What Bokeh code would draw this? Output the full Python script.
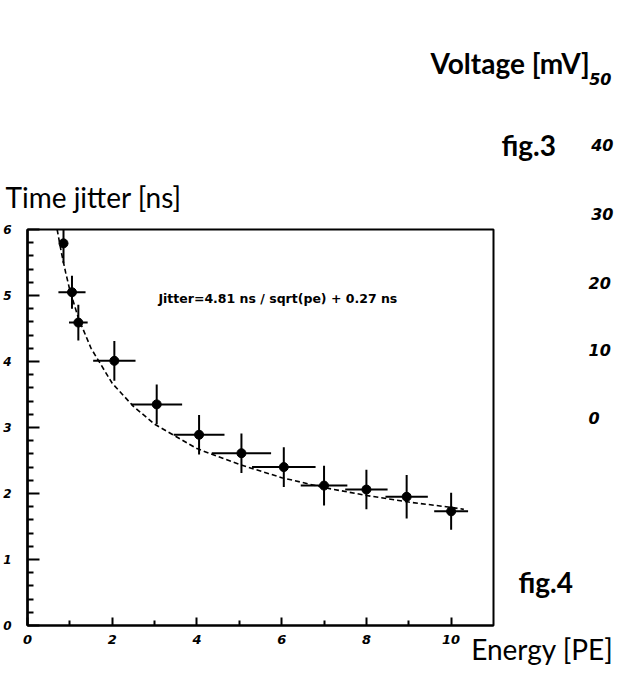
from bokeh.plotting import figure
from bokeh.models import Range1d, FixedTicker, Label, LinearAxis, Title
from bokeh.embed import file_html
from bokeh.resources import INLINE

# ---- data ----
energy = [0.85, 1.05, 1.2, 2.05, 3.05, 4.05, 5.05, 6.05, 7.0, 8.0, 8.95, 10.0]
jitter = [5.79, 5.05, 4.59, 4.01, 3.35, 2.89, 2.61, 2.40, 2.12, 2.06, 1.95, 1.73]
energy_err = [0.0, 0.32, 0.22, 0.5, 0.6, 0.6, 0.7, 0.75, 0.55, 0.5, 0.5, 0.4]
jitter_err = [0.3, 0.25, 0.27, 0.3, 0.3, 0.3, 0.3, 0.3, 0.3, 0.3, 0.33, 0.28]

fit_energy = [0.70, 0.80, 0.90, 1.0, 1.2, 1.5, 2.0, 2.5, 3.0, 4.0, 5.0, 6.0, 7.0, 8.0, 9.0, 10.0, 10.3]
fit_jitter = [6.0, 5.65, 5.35, 5.08, 4.66, 4.2, 3.67, 3.32, 3.05, 2.68, 2.44, 2.24, 2.09, 1.97, 1.87, 1.79, 1.76]

x_ticks = [0, 2, 4, 6, 8, 10]
x_minor_ticks = [1, 3, 5, 7, 9]
y_ticks = [0, 1, 2, 3, 4, 5, 6]
volt_ticks = [50, 40, 30, 20, 10, 0]

fit_text = "Jitter=4.81 ns / sqrt(pe) + 0.27 ns"

FONT = "Lato"
NUMFONT = "DejaVu Sans"

# ---------------- geometry (page pixels) ----------------
W, H = 614, 665
MARGIN = 8
FRAME_TOP = 237          # page y of the frame top
FRAME_BOTTOM = 633
FRAME_LEFT = 34
FRAME_RIGHT = 501
VOLT_PX = 6.75           # pixels per mV of the neighbouring fig.3 scale
VOLT_ZERO = 425          # page y of its 0 mV label


def volt_to_page(v):
    return VOLT_ZERO - v * VOLT_PX


def page_to_volt(y):
    return (VOLT_ZERO - y) / VOLT_PX


p = figure(width=W, height=H,
           x_range=Range1d(0, 11), y_range=Range1d(0, 6),
           output_backend="svg", toolbar_location=None,
           min_border_left=FRAME_LEFT - MARGIN,
           min_border_right=MARGIN + W - FRAME_RIGHT,
           min_border_top=FRAME_TOP - MARGIN,
           min_border_bottom=H + MARGIN - FRAME_BOTTOM)
p.extra_y_ranges = {"volt": Range1d(page_to_volt(FRAME_BOTTOM), page_to_volt(FRAME_TOP))}

p.xgrid.visible = False
p.ygrid.visible = False
p.outline_line_color = "black"
p.outline_line_width = 2
p.outline_line_alpha = 1
p.background_fill_color = "white"
p.border_fill_color = "white"

# x axis
p.xaxis.ticker = FixedTicker(ticks=x_ticks, minor_ticks=x_minor_ticks)
p.xaxis.major_tick_in = 8
p.xaxis.major_tick_out = 0
p.xaxis.minor_tick_in = 5
p.xaxis.minor_tick_out = 0
p.xaxis.major_tick_line_width = 2
p.xaxis.minor_tick_line_width = 2
p.xaxis.axis_line_width = 2
p.xaxis.major_label_standoff = 9
p.xaxis.major_label_text_font = NUMFONT
p.xaxis.major_label_text_font_style = "bold italic"
p.xaxis.major_label_text_font_size = "13px"
p.xaxis.major_label_text_color = "black"

# y axis
y_minor = [round(0.2 * i, 1) for i in range(31) if i % 5]
p.yaxis.ticker = FixedTicker(ticks=y_ticks, minor_ticks=y_minor)
p.yaxis.major_tick_in = 12
p.yaxis.major_tick_out = 0
p.yaxis.minor_tick_in = 6
p.yaxis.minor_tick_out = 0
p.yaxis.major_tick_line_width = 2
p.yaxis.minor_tick_line_width = 2
p.yaxis.axis_line_width = 2.5
p.yaxis.major_label_standoff = 16
p.yaxis.major_label_text_font = NUMFONT
p.yaxis.major_label_text_font_style = "bold italic"
p.yaxis.major_label_text_font_size = "12px"
p.yaxis.major_label_text_color = "black"

# right side: "fig.4" caption and the lower voltage labels of fig.3
fig4_v = page_to_volt(589)
ax_f4 = LinearAxis(y_range_name="volt", ticker=FixedTicker(ticks=[fig4_v]),
                   major_label_overrides={fig4_v: "fig.4"})
ax_volt = LinearAxis(y_range_name="volt", ticker=FixedTicker(ticks=volt_ticks))
for ax, standoff, font, size, style in ((ax_f4, 25, FONT, "28px", "bold"),
                                        (ax_volt, 13, NUMFONT, "16px", "bold italic")):
    ax.axis_line_color = None
    ax.major_tick_line_color = None
    ax.minor_tick_line_color = None
    ax.major_tick_in = 0
    ax.major_tick_out = 0
    ax.minor_tick_in = 0
    ax.minor_tick_out = 0
    ax.major_label_standoff = standoff
    ax.major_label_text_font = font
    ax.major_label_text_font_size = size
    ax.major_label_text_font_style = style
    ax.major_label_text_color = "black"
    p.add_layout(ax, "right")

# x title at the right end of the axis
p.add_layout(Title(text="Energy [PE]", align="right", offset=FRAME_RIGHT - 621, standoff=-29,
                   vertical_align="top", text_font=FONT, text_font_size="28px",
                   text_font_style="normal", text_color="black"), "below")


# ---- texts above the frame, stacked upward from the frame top ----
def h_est(size, family):
    return size * (1.2 if family == FONT else 1.17)


stack = {"b": FRAME_TOP}


def add_above(text, center, family, size, style, align, offset):
    b = stack["b"]
    hh = max(0.0, 2 * (b - center))
    s = hh - 2 - h_est(size, family)
    p.add_layout(Title(text=text, align=align, offset=offset, standoff=s,
                       vertical_align="middle", text_font=family,
                       text_font_size=f"{size}px", text_font_style=style,
                       text_color="black"), "above")
    stack["b"] = b - hh


def add_spacer(to_boundary):
    add_above(" ", (stack["b"] + to_boundary) / 2, FONT, 20, "normal", "left", 0)


def num_offset(center_x):
    return FRAME_RIGHT - (center_x + 11)


# layout calibration of the stacked titles (measured drift of the side panel)
D30, DTJ, D40, D50, DV = 4.5, 10.0, 9.5, 7.5, 8.0

add_above("30", volt_to_page(30) - D30, NUMFONT, 16, "bold italic", "right", num_offset(610))
add_above("Time jitter [ns]", 207 - DTJ, FONT, 28, "normal", "left", 12 - FRAME_LEFT)
add_spacer(volt_to_page(40) - D40)
add_above("fig.3", volt_to_page(40) - D40, FONT, 28, "bold", "left", 508 - FRAME_LEFT)
add_above("40", volt_to_page(40) - D40, NUMFONT, 16, "bold italic", "right", num_offset(610))
add_spacer(volt_to_page(50) - D50)
add_above("50", volt_to_page(50) - D50, NUMFONT, 16, "bold italic", "right", num_offset(608))
add_above("Voltage [mV]", 72 - DV, FONT, 28, "bold", "left", 437 - FRAME_LEFT)

# fit curve
p.line(fit_energy, fit_jitter, line_color="black", line_width=1.6, line_dash="5 3")

# error bars
p.segment(x0=energy, y0=[y - e for y, e in zip(jitter, jitter_err)],
          x1=energy, y1=[y + e for y, e in zip(jitter, jitter_err)],
          line_color="black", line_width=2)
p.segment(x0=[x - e for x, e in zip(energy, energy_err)], y0=jitter,
          x1=[x + e for x, e in zip(energy, energy_err)], y1=jitter,
          line_color="black", line_width=2)
p.scatter(energy, jitter, size=9, color="black")

# fit annotation
p.add_layout(Label(x=3.09, y=4.95, text=fit_text, text_font=NUMFONT,
                   text_font_style="bold", text_font_size="12.5px",
                   text_baseline="middle", text_align="left", text_color="black"))

open("out.html", "w").write(file_html(p, INLINE))
